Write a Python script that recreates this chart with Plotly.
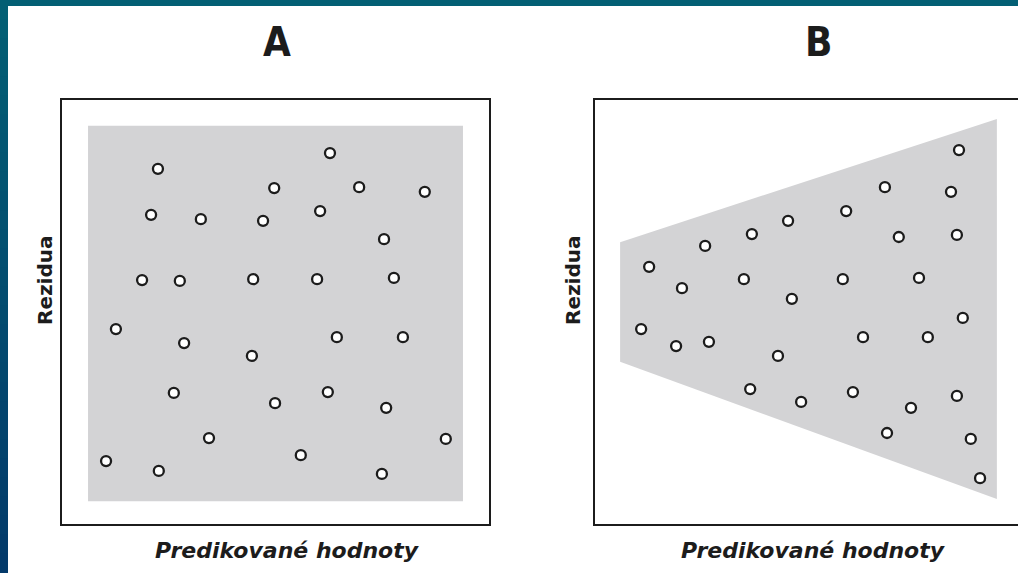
import plotly.graph_objects as go

# residuals vs predicted values, two panels (A = constant spread, B = growing spread)
pred_a = [22.6, 62.7, 49.7, 69.5, 84.8, 21.0, 32.6, 47.1, 60.4, 75.3,
          18.9, 27.7, 44.8, 59.7, 77.6, 12.8, 28.7, 44.5, 64.3, 79.7,
          26.3, 49.9, 62.2, 75.8, 34.5, 89.7, 10.5, 22.8, 55.9, 74.8]
resid_a = [33.6, 37.3, 29.1, 29.3, 28.2, 22.8, 21.8, 21.4, 23.7, 17.1,
           7.5, 7.3, 7.7, 7.7, 8.0, -4.0, -7.3, -10.3, -5.9, -5.9,
           -19.0, -21.4, -18.8, -22.5, -29.6, -29.8, -35.0, -37.3, -33.6, -38.0]

pred_b = [86.7, 69.1, 84.8, 59.9, 46.1, 37.5, 72.4, 86.2, 26.4, 13.1,
          20.9, 35.6, 59.1, 77.2, 47.0, 87.6, 11.2, 19.5, 27.3, 43.7,
          63.9, 79.3, 37.1, 49.2, 61.5, 75.3, 86.2, 69.6, 89.5, 91.7]
resid_b = [38.0, 29.3, 28.2, 23.7, 21.4, 18.3, 17.6, 18.1, 15.5, 10.6,
           5.6, 7.7, 7.7, 8.0, 3.1, -1.4, -4.0, -8.0, -7.0, -10.3,
           -5.9, -5.9, -18.1, -21.1, -18.8, -22.5, -19.7, -28.4, -29.8, -39.0]

# grey bands behind the points
band_a_x = [6.3, 93.7, 93.7, 6.3, 6.3]
band_a_y = [43.7, 43.7, -44.4, -44.4, 43.7]
band_b_x = [6.2, 95.7, 95.7, 6.2, 6.2]
band_b_y = [16.4, 45.3, -43.9, -11.7, 16.4]

W, H = 1018, 573
grey = '#d3d3d5'
ink = '#1c1c1c'

fig = go.Figure()

fig.add_trace(go.Scatter(x=band_a_x, y=band_a_y, fill='toself', fillcolor=grey,
                         mode='none', hoverinfo='skip', xaxis='x', yaxis='y'))
fig.add_trace(go.Scatter(x=band_b_x, y=band_b_y, fill='toself', fillcolor=grey,
                         mode='none', hoverinfo='skip', xaxis='x2', yaxis='y2'))

marker = dict(size=10, color='white', line=dict(color=ink, width=2.3))
fig.add_trace(go.Scatter(x=pred_a, y=resid_a, mode='markers', marker=marker,
                         xaxis='x', yaxis='y'))
fig.add_trace(go.Scatter(x=pred_b, y=resid_b, mode='markers', marker=marker,
                         xaxis='x2', yaxis='y2'))

def px(v):
    return v / W

def py(v):
    return 1 - v / H

ax = dict(range=[0, 100], showgrid=False, zeroline=False, showticklabels=False,
          ticks='', showline=False, fixedrange=True)
ay = dict(range=[-50, 50], showgrid=False, zeroline=False, showticklabels=False,
          ticks='', showline=False, fixedrange=True)

fig.update_layout(
    width=W, height=H,
    margin=dict(l=0, r=0, t=0, b=0),
    paper_bgcolor='white', plot_bgcolor='rgba(0,0,0,0)',
    showlegend=False,
    xaxis=dict(ax, domain=[px(61), px(490)]),
    yaxis=dict(ay, domain=[py(525), py(99)]),
    xaxis2=dict(ax, domain=[px(594), px(1015)], anchor='y2'),
    yaxis2=dict(ay, domain=[py(525), py(99)], anchor='x2'),
)

shapes = []
# frame boxes around each panel
shapes.append(dict(type='rect', xref='paper', yref='paper', x0=px(61), x1=px(490),
                   y0=py(525), y1=py(99), line=dict(color=ink, width=2)))
shapes.append(dict(type='path', xref='paper', yref='paper',
                   path=f'M 1.02 {py(99)} L {px(594)} {py(99)} L {px(594)} {py(525)} L 1.02 {py(525)}',
                   line=dict(color=ink, width=2)))

# slide frame: teal band on top, gradient band on the left
shapes.append(dict(type='rect', xref='paper', yref='paper', x0=0, x1=1,
                   y0=py(6), y1=1, fillcolor='#035f74', line=dict(width=0)))
top_c = (3, 95, 116)
bot_c = (3, 58, 106)
n = 30
for i in range(n):
    t = i / (n - 1)
    c = tuple(round(top_c[k] + (bot_c[k] - top_c[k]) * t) for k in range(3))
    shapes.append(dict(type='rect', xref='paper', yref='paper', x0=0, x1=px(8),
                       y0=1 - (i + 1) / n - 0.01, y1=1 - i / n,
                       fillcolor='rgb(%d,%d,%d)' % c, line=dict(width=0)))
fig.update_layout(shapes=shapes)

title_font = dict(family='DejaVu Sans Condensed, DejaVu Sans', size=40, color=ink)
lab_font = dict(family='DejaVu Sans', size=20, color=ink)
xlab_font = dict(family='DejaVu Sans', size=22, color=ink)

ann = []
for x, t in [(277, 'A'), (818, 'B')]:
    ann.append(dict(x=px(x), y=py(42), xref='paper', yref='paper', text='<b>%s</b>' % t,
                    showarrow=False, font=title_font, xanchor='center', yanchor='middle'))
for x in [45, 573]:
    ann.append(dict(x=px(x), y=py(280), xref='paper', yref='paper', text='<b>Rezidua</b>',
                    textangle=-90, showarrow=False, font=lab_font,
                    xanchor='center', yanchor='middle'))
for x in [287, 813]:
    ann.append(dict(x=px(x), y=py(550), xref='paper', yref='paper',
                    text='<b><i>Predikované hodnoty</i></b>', showarrow=False,
                    font=xlab_font, xanchor='center', yanchor='middle'))
fig.update_layout(annotations=ann)

fig.write_html('out.html', config={'displayModeBar': False},
               post_script="document.body.style.margin='0';")
